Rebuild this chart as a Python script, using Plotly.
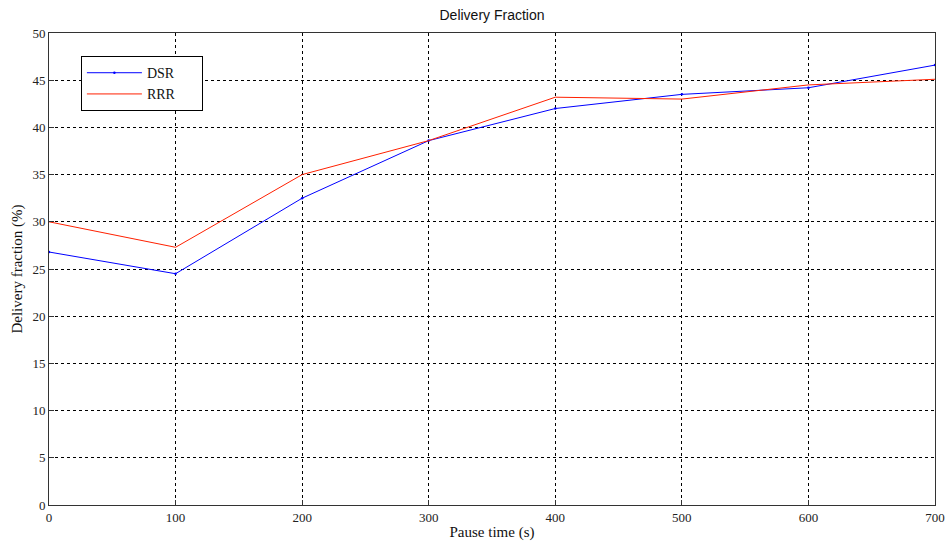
import plotly.graph_objects as go

pause_time = [0, 100, 200, 300, 400, 500, 600, 700]
dsr = [26.8, 24.5, 32.5, 38.6, 42.0, 43.5, 44.2, 46.6]
rrr = [30.0, 27.3, 35.0, 38.6, 43.2, 43.0, 44.5, 45.1]
x_ticks = [0, 100, 200, 300, 400, 500, 600, 700]
y_ticks = [0, 5, 10, 15, 20, 25, 30, 35, 40, 45, 50]

serif = "Times New Roman, Liberation Serif, serif"
pad = "\u00a0" * 6

fig = go.Figure()
fig.add_trace(go.Scatter(x=pause_time, y=dsr, name="DSR" + pad, mode="lines+markers",
                         line=dict(color="#0000ff", width=1),
                         marker=dict(size=2.5, color="#0000ff")))
fig.add_trace(go.Scatter(x=pause_time, y=rrr, name="RRR" + pad, mode="lines",
                         line=dict(color="#ff2000", width=1)))

axis_common = dict(showgrid=True, gridcolor="black", griddash="dot", gridwidth=1,
                   showline=True, linecolor="#333333", linewidth=1, mirror=True,
                   ticks="inside", ticklen=5, tickcolor="#333333",
                   tickfont=dict(family=serif, size=13, color="#222222"),
                   zeroline=False, automargin=False)

fig.update_layout(
    width=948, height=546,
    margin=dict(l=49, r=13, t=33, b=41),
    paper_bgcolor="white", plot_bgcolor="white",
    title=dict(text="Delivery Fraction", x=0.519, xanchor="center", y=0.972, yanchor="middle",
               font=dict(family="Liberation Sans, Arial, sans-serif", size=14, color="#111111"),
               automargin=False),
    xaxis=dict(range=[0, 700], tickvals=x_ticks, ticktext=[str(v) for v in x_ticks],
               title=dict(text="Pause time (s)", font=dict(family=serif, size=15, color="#111111"), standoff=2),
               **axis_common),
    yaxis=dict(range=[0, 50], tickvals=y_ticks, ticktext=[str(v) for v in y_ticks],
               title=dict(text="Delivery fraction (%)", font=dict(family=serif, size=15, color="#111111"), standoff=6),
               **axis_common),
    legend=dict(x=0.036, y=0.951, xanchor="left", yanchor="top",
                bordercolor="black", borderwidth=1, bgcolor="white",
                font=dict(family=serif, size=14, color="#111111"),
                itemwidth=55, tracegroupgap=0),
    showlegend=True,
)

fig.write_html("out.html")
